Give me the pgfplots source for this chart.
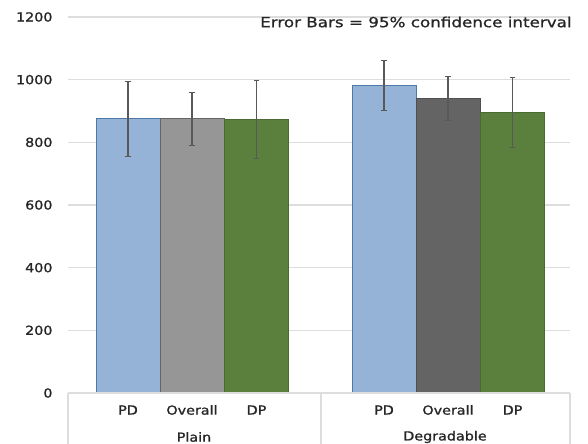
\documentclass[border=0pt]{standalone}
\usepackage{pgfplots}
\pgfplotsset{compat=1.18}
\usepackage{fontspec}
\setmainfont{DejaVu Sans}
\newfontfamily\tickfont[FakeStretch=1.15,FakeBold=1.2]{DejaVu Sans}
\newfontfamily\titlefont[FakeStretch=1.2,FakeBold=1]{DejaVu Sans}
\definecolor{cblue}{HTML}{95B3D7}
\definecolor{cblueb}{HTML}{4F79A8}
\definecolor{cgrayl}{HTML}{969696}
\definecolor{cgrayd}{HTML}{646464}
\definecolor{cgreen}{HTML}{5B803E}
\definecolor{cgreenb}{HTML}{4A6A30}
\definecolor{cerr}{HTML}{595959}
\definecolor{cgrid}{HTML}{DDDDDD}
\definecolor{ctext}{HTML}{262626}
\begin{document}
\begin{tikzpicture}[x=1bp,y=1bp]
\useasboundingbox (0,0) rectangle (588,444);
\begin{axis}[
  at={(68bp,51bp)}, anchor=south west,
  scale only axis, width=502bp, height=376bp,
  xmin=68, xmax=570, ymin=0, ymax=1200,
  axis line style={draw=none},
  ytick={0,200,...,1200},
  ymajorgrids, grid style={cgrid, line width=1.2pt},
  major tick length=0pt,
  xtick={128,192,256.5,384,448,512.5},
  xticklabels={PD,Overall,DP,PD,Overall,DP},
  xticklabel style={font=\tickfont\fontsize{12.5}{14}\selectfont, text=ctext, anchor=center, yshift=-17bp},
  yticklabel style={font=\tickfont\fontsize{12.5}{14}\selectfont, text=ctext, anchor=east, xshift=-12bp},
  /pgf/number format/assume math mode=true,
  /pgf/number format/1000 sep={},
  ybar, bar width=64, bar shift=0pt,
  clip=false,
  error bars/y dir=both, error bars/y explicit,
  error bars/error bar style={cerr, line width=1.2pt},
  error bars/error mark options={cerr, rotate=90, mark size=2.7pt, line width=1pt},
]
\addplot[fill=cblue, draw=cblueb, line width=0.6pt] coordinates {
  (128,877) += (0,117) -= (0,122)
  (384,982) += (0,80) -= (0,82)
};
\addplot[fill=cgrayl, draw=cgrayd, line width=0.6pt] coordinates {
  (192,877) += (0,81) -= (0,87)
};
\addplot[fill=cgrayd, draw=cgrayd!80!black, line width=0.6pt] coordinates {
  (448,940) += (0,70) -= (0,71)
};
\addplot[fill=cgreen, draw=cgreenb, line width=0.6pt] coordinates {
  (256.5,874) += (0,123) -= (0,125)
  (512.5,895) += (0,113) -= (0,113)
};
\end{axis}
\draw[cgrid, line width=1.2pt] (68,51) -- (570,51);
\draw[cgrid, line width=1.2pt] (68,51) -- (68,0);
\draw[cgrid, line width=1.2pt] (321,51) -- (321,0);
\draw[cgrid, line width=1.2pt] (570,51) -- (570,0);
\node[font=\tickfont\fontsize{12.5}{14}\selectfont, text=ctext, anchor=center] at (194,7) {Plain};
\node[font=\tickfont\fontsize{12.5}{14}\selectfont, text=ctext, anchor=center] at (445,7) {Degradable};
\node[font=\titlefont\fontsize{14}{16}\selectfont, text=ctext, anchor=west, inner sep=0pt] at (260,422) {Error Bars = 95\% confidence interval};
\end{tikzpicture}
\end{document}
